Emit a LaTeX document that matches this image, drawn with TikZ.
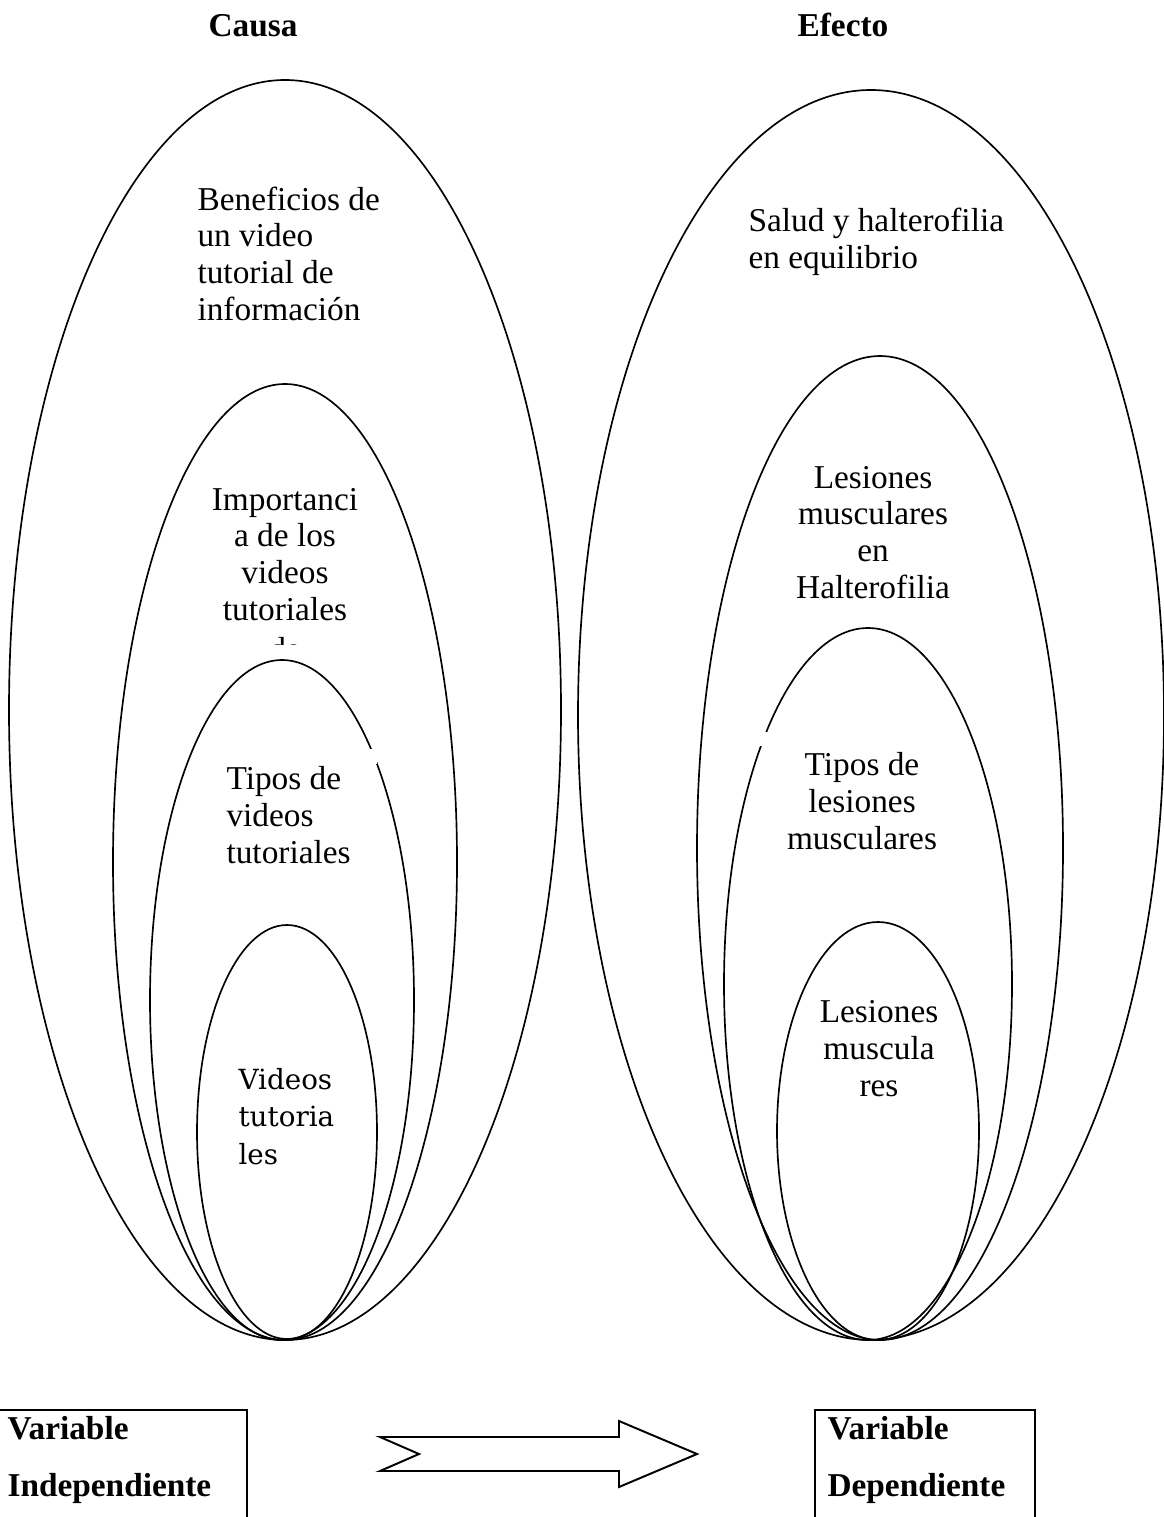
\documentclass[tikz,border=0pt]{standalone}
\usepackage{fontspec}
\setmainfont{Liberation Serif}
\newfontfamily\cambria{DejaVu Serif}

\tikzset{
  anel/.style={line width=0.6pt},
  texto/.style={inner sep=0pt, font=\fontsize{12}{13.2}\selectfont},
  titulo/.style={inner sep=0pt, font=\fontsize{12}{20.2}\selectfont\bfseries},
  caixa/.style={line width=0.9pt},
  seta/.style={line width=0.7pt, line join=miter},
}

\begin{document}
\begin{tikzpicture}[x=0.36pt, y=-0.36pt]
	\useasboundingbox (0,0) rectangle (1163,1517);

	% Titulos
	\node[titulo, anchor=base] (causa) at (253,37) {Causa};
	\node[titulo, anchor=base] (efecto) at (843,37) {Efecto};

	% Elipses da causa
	\draw[anel] (285,710) ellipse [x radius=276, y radius=630];
	\draw[anel] (285,862) ellipse [x radius=172, y radius=478];
	\draw[anel] (282,1000) ellipse [x radius=132, y radius=340];
	\draw[anel] (287,1132) ellipse [x radius=90, y radius=207];

	% Elipses do efeito
	\draw[anel] (871,715) ellipse [x radius=293, y radius=625];
	\draw[anel] (880,848) ellipse [x radius=183, y radius=492];
	\draw[anel] (868,984) ellipse [x radius=144, y radius=356];
	\draw[anel] (878,1131) ellipse [x radius=101, y radius=209];

	% pequenos cortes nas linhas
	\fill[white] (364,749) rectangle (377,764);
	\fill[white] (755,732) rectangle (769,746);

	% Textos da causa (ancorados na ultima linha)
	\node[texto, anchor=base west, align=left] (beneficios) at (197,320)
		{Beneficios de\\un video\\tutorial de\\información};
	\node[texto, anchor=base, align=center] (importancia) at (285,620)
		{Importanci\\a de los\\videos\\tutoriales};
	\begin{scope}
		\clip (240,600) rectangle (330,644);
		\node[texto, anchor=base] (cortado) at (285,660) {de};
	\end{scope}
	\node[texto, anchor=base west, align=left] (tiposvideos) at (226,863)
		{Tipos de\\videos\\tutoriales};
	\node[inner sep=0pt, anchor=base west, align=left,
		font=\cambria\fontsize{10}{13.5}\selectfont] (videos) at (238,1164)
		{Videos\\tutoria\\les};

	% Textos do efeito
	\node[texto, anchor=base west, align=left] (salud) at (748,268)
		{Salud y halterofilia\\en equilibrio};
	\node[texto, anchor=base, align=center] (lesioneshalt) at (873,598)
		{Lesiones\\musculares\\en\\Halterofilia};
	\node[texto, anchor=base, align=center] (tiposlesiones) at (862,849)
		{Tipos de\\lesiones\\musculares};
	\node[texto, anchor=base, align=center] (lesionesmusc) at (879,1096)
		{Lesiones\\muscula\\res};

	% Caixas das variaveis
	\draw[caixa] (-5,1410) rectangle (247,1540);
	\draw[caixa] (815,1410) rectangle (1035,1540);
	\node[titulo, anchor=base west, align=left] (independiente) at (7,1496)
		{Variable\\Independiente};
	\node[titulo, anchor=base west, align=left] (dependiente) at (827,1496)
		{Variable\\Dependiente};

	% Seta entre as caixas
	\draw[seta] (380,1437) -- (619,1437) -- (619,1421) -- (697,1454)
		-- (619,1487) -- (619,1471) -- (380,1471) -- (419,1454) -- cycle;

\end{tikzpicture}
\end{document}
